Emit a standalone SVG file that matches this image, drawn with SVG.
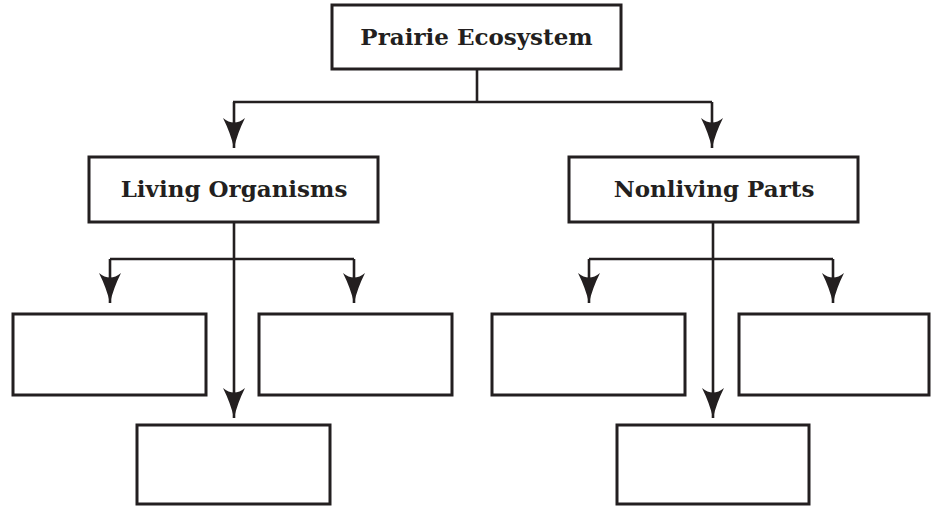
<svg xmlns="http://www.w3.org/2000/svg" width="931" height="508" viewBox="0 0 931 508">
  <style>
    .box { fill: #ffffff; stroke: #231f20; stroke-width: 3; }
    .link { fill: none; stroke: #231f20; stroke-width: 2.6; }
    .label { font-family: "DejaVu Serif", "Liberation Serif", serif; font-weight: bold; font-size: 23px; fill: #231f20; text-anchor: middle; }
  </style>
  <defs>
    <marker id="arrow" markerUnits="userSpaceOnUse" viewBox="0 -12 31 24" refX="30" refY="0" markerWidth="31" markerHeight="24" orient="auto">
      <path d="M0,-11 Q15,-3.5 30,0 Q15,3.5 0,11 Q9,0 0,-11 Z" fill="#231f20"/>
    </marker>
  </defs>
  <rect width="931" height="508" fill="#ffffff"/>

  <g id="connectors">
    <!-- top level split -->
    <path class="link" d="M477,69 V102"/>
    <path class="link" d="M233,102 H712" />
    <path class="link" d="M234,102 V148" marker-end="url(#arrow)"/>
    <path class="link" d="M712,102 V148" marker-end="url(#arrow)"/>
    <!-- living organisms branches -->
    <path class="link" d="M234,222 V418" marker-end="url(#arrow)"/>
    <path class="link" d="M110,259 H354"/>
    <path class="link" d="M110,259 V303" marker-end="url(#arrow)"/>
    <path class="link" d="M354,259 V303" marker-end="url(#arrow)"/>
    <!-- nonliving parts branches -->
    <path class="link" d="M713,222 V418" marker-end="url(#arrow)"/>
    <path class="link" d="M589,259 H833"/>
    <path class="link" d="M589,259 V303" marker-end="url(#arrow)"/>
    <path class="link" d="M833,259 V303" marker-end="url(#arrow)"/>
  </g>

  <g id="prairie-ecosystem">
    <rect class="box" x="332" y="5" width="289" height="64"/>
    <text class="label" x="476.5" y="45">Prairie Ecosystem</text>
  </g>
  <g id="living-organisms">
    <rect class="box" x="89" y="157" width="289" height="65"/>
    <text class="label" x="234" y="197">Living Organisms</text>
  </g>
  <g id="nonliving-parts">
    <rect class="box" x="569" y="157" width="289" height="65"/>
    <text class="label" x="714" y="197">Nonliving Parts</text>
  </g>

  <g id="living-left">
    <rect class="box" x="13" y="314" width="193" height="81"/>
  </g>
  <g id="living-right">
    <rect class="box" x="259" y="314" width="193" height="81"/>
  </g>
  <g id="living-bottom">
    <rect class="box" x="137" y="425" width="193" height="79"/>
  </g>
  <g id="nonliving-left">
    <rect class="box" x="492" y="314" width="193" height="81"/>
  </g>
  <g id="nonliving-right">
    <rect class="box" x="739" y="314" width="190" height="81"/>
  </g>
  <g id="nonliving-bottom">
    <rect class="box" x="617" y="425" width="192" height="79"/>
  </g>
</svg>
